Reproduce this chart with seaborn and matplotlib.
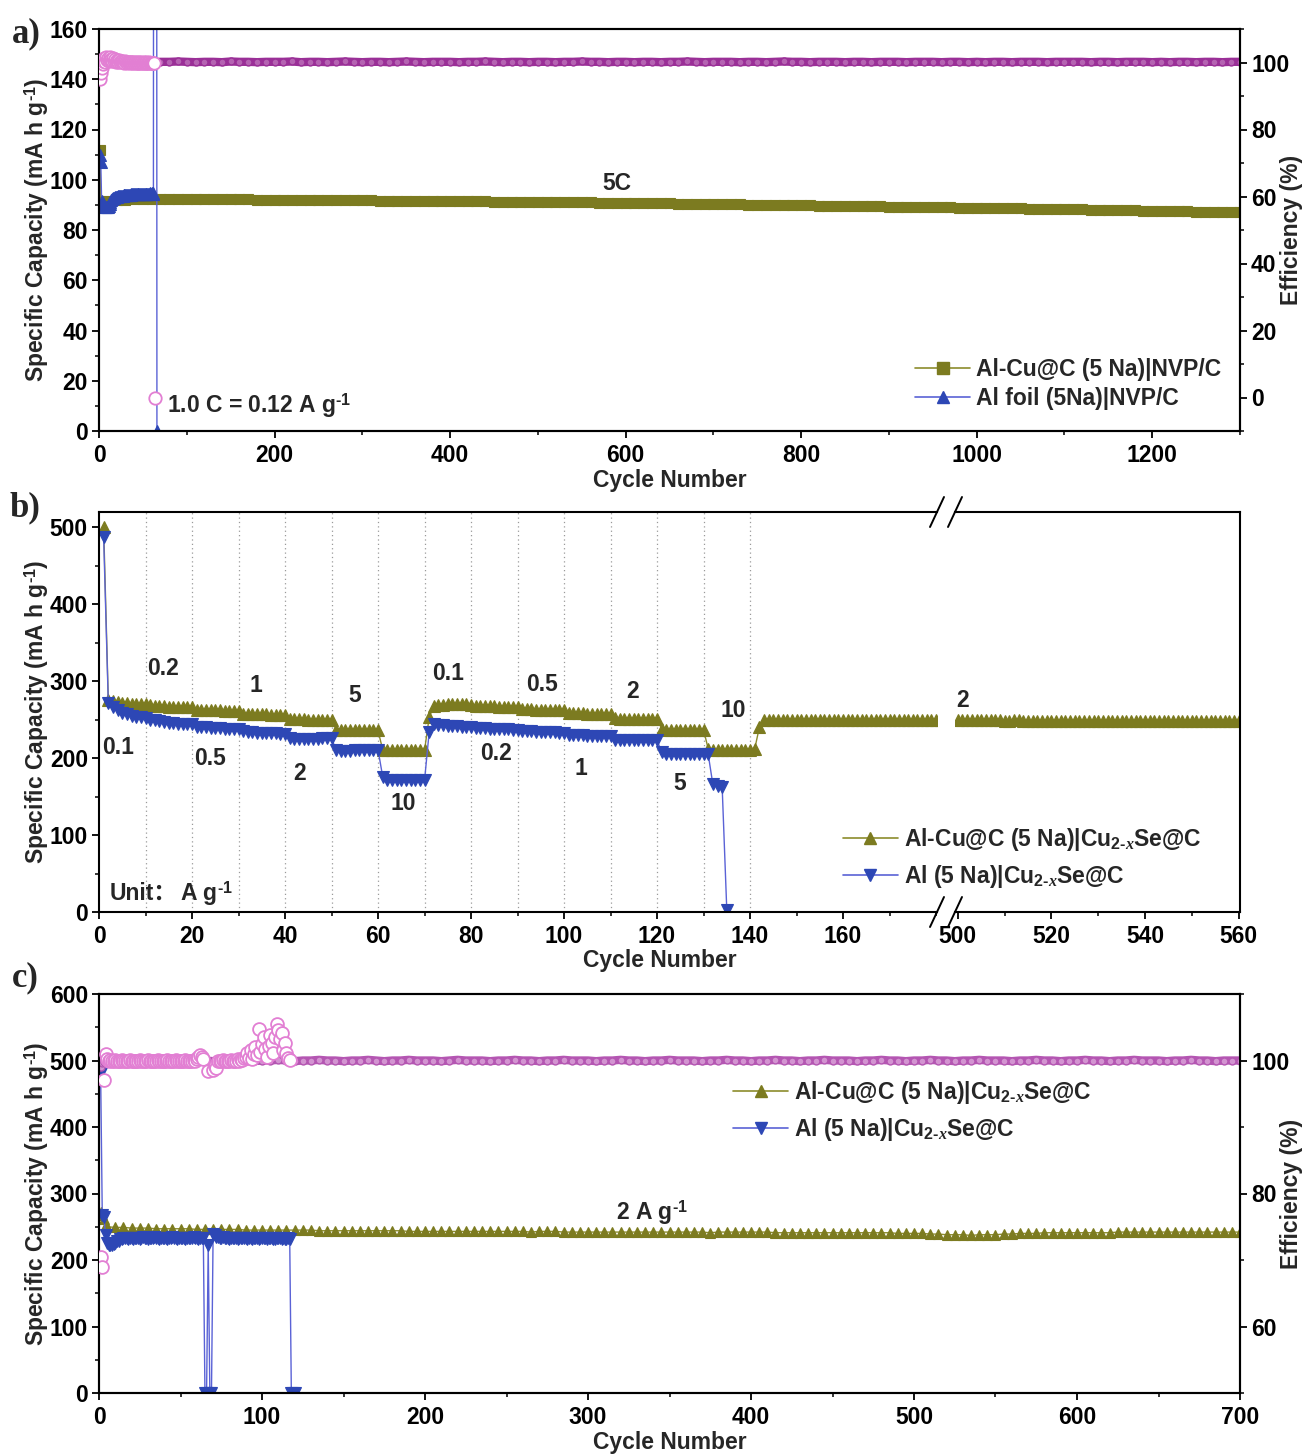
import numpy as np
import pandas as pd
import matplotlib
matplotlib.use("Agg")
import matplotlib.pyplot as plt
import seaborn as sns
from matplotlib.lines import Line2D
from matplotlib.ticker import MultipleLocator, FixedLocator

# ----------------------------------------------------------------- data ---
# (a) NVP/C full cells, 5C
cyc_a_alcu = [1, 2, 5] + list(range(10, 1301, 10))
cap_a_alcu = [112, 91, 91,
    91.5, 92.0, 92.0, 92.2, 92.3, 92.4, 92.5, 92.5, 92.4, 92.4,
    92.4, 92.3, 92.3, 92.3, 92.2, 92.2, 92.2, 92.1, 92.1, 92.1,
    92.0, 92.0, 92.0, 91.9, 91.9, 91.9, 91.9, 91.8, 91.8, 91.8,
    91.8, 91.7, 91.7, 91.7, 91.6, 91.6, 91.6, 91.5, 91.5, 91.5,
    91.5, 91.4, 91.4, 91.4, 91.3, 91.3, 91.3, 91.2, 91.2, 91.2,
    91.1, 91.1, 91.1, 91.0, 91.0, 91.0, 90.9, 90.9, 90.9, 90.8,
    90.8, 90.7, 90.7, 90.6, 90.6, 90.5, 90.5, 90.4, 90.4, 90.3,
    90.3, 90.2, 90.2, 90.1, 90.1, 90.0, 90.0, 89.9, 89.9, 89.8,
    89.8, 89.7, 89.7, 89.6, 89.6, 89.5, 89.5, 89.4, 89.4, 89.3,
    89.3, 89.2, 89.2, 89.1, 89.1, 89.0, 89.0, 88.9, 88.9, 88.8,
    88.8, 88.7, 88.7, 88.6, 88.6, 88.5, 88.5, 88.4, 88.4, 88.3,
    88.3, 88.2, 88.1, 88.1, 88.0, 87.9, 87.9, 87.8, 87.7, 87.7,
    87.6, 87.5, 87.5, 87.4, 87.3, 87.3, 87.2, 87.1, 87.1, 87.0]
eff_a_alcu = [96.0, 98.5, 99.6,
    100.2, 100.1, 100.2, 100.3, 100.2, 100.1, 100.2, 100.2, 100.3, 100.2,
    100.1, 100.2, 100.2, 100.1, 100.3, 100.2, 100.2, 100.1, 100.2, 100.2,
    100.2, 100.3, 100.1, 100.2, 100.2, 100.1, 100.2, 100.3, 100.2, 100.1,
    100.2, 100.2, 100.1, 100.2, 100.3, 100.2, 100.1, 100.2, 100.2, 100.2,
    100.1, 100.2, 100.2, 100.3, 100.2, 100.1, 100.2, 100.2, 100.1, 100.2,
    100.2, 100.1, 100.2, 100.2, 100.3, 100.2, 100.2, 100.1, 100.2, 100.2,
    100.1, 100.2, 100.2, 100.1, 100.2, 100.2, 100.3, 100.2, 100.1, 100.2,
    100.2, 100.2, 100.1, 100.2, 100.2, 100.1, 100.2, 100.3, 100.2, 100.2,
    100.1, 100.2, 100.2, 100.2, 100.1, 100.2, 100.2, 100.1, 100.2, 100.2,
    100.2, 100.1, 100.2, 100.2, 100.2, 100.1, 100.2, 100.2, 100.1, 100.2,
    100.1, 100.2, 100.2, 100.1, 100.2, 100.2, 100.2, 100.1, 100.2, 100.2,
    100.2, 100.2, 100.1, 100.2, 100.2, 100.1, 100.2, 100.2, 100.2, 100.1,
    100.2, 100.1, 100.2, 100.2, 100.1, 100.2, 100.2, 100.1, 100.2, 100.2]
cyc_a_al = list(range(1, 67))
cap_a_al = [110, 107, 91.5, 90.5, 90.0, 89.5, 89.3, 89.2, 89.2, 89.3,
    89.5, 90.2, 91.0, 91.8, 92.3, 92.6, 92.8, 93.0, 93.1, 93.2,
    93.3, 93.4, 93.5, 93.5, 93.6, 93.7, 93.7, 93.8, 93.8, 93.9,
    94.0, 94.0, 94.1, 94.0, 94.1, 94.2, 94.1, 94.2, 94.2, 94.3,
    94.2, 94.3, 94.3, 94.2, 94.3, 94.4, 94.3, 94.4, 94.4, 94.3,
    94.4, 94.5, 94.4, 94.5, 94.5, 94.4, 94.5, 94.6, 94.5, 94.6,
    94.5, 94.6, 900, 900, 900, 0]
cyc_a_al_eff = list(range(1, 65))
eff_a_al = [95.0, 97.0, 98.5, 99.5, 100.5, 101.3, 100.2, 101.6, 100.8, 101.2,
    100.4, 101.5, 100.6, 101.0, 100.3, 101.3, 100.5, 100.9, 100.2, 100.7,
    100.4, 100.1, 100.6, 100.2, 100.3, 100.5, 100.1, 100.2, 100.0, 100.3,
    100.1, 100.0, 100.2, 100.1, 100.0, 100.1, 100.2, 100.0, 100.1, 100.0,
    100.1, 100.0, 100.1, 100.0, 100.0, 100.1, 100.0, 100.1, 100.0, 100.0,
    100.1, 100.0, 100.0, 100.1, 100.0, 100.0, 100.1, 100.0, 100.0, 100.0,
    100.0, 100.0, 100.0, 0.0]

# (b) rate capability, Cu2-xSe@C
cyc_b_alcu = list(range(1, 182)) + list(range(500, 561))
cap_b_alcu = [500,
    276, 274, 273, 272, 272, 271, 271, 270, 270,
    269, 268, 268, 268, 267, 267, 267, 266, 266, 266,
    263, 263, 262, 262, 262, 262, 261, 261, 261, 261,
    258, 258, 257, 257, 257, 257, 256, 256, 256, 256,
    251, 251, 251, 251, 250, 250, 250, 250, 250, 250,
    237, 236, 236, 236, 236, 236, 236, 236, 236, 236,
    211, 210, 210, 210, 210, 210, 210, 210, 210, 210,
    253, 268, 269, 269, 270, 270, 270, 270, 270, 269,
    268, 268, 268, 268, 268, 267, 267, 267, 267, 267,
    264, 264, 264, 263, 263, 263, 263, 263, 262, 262,
    259, 259, 259, 259, 258, 258, 258, 258, 258, 258,
    252, 251, 251, 251, 251, 251, 251, 251, 251, 251,
    238, 237, 237, 237, 237, 237, 237, 237, 237, 237,
    212, 211, 211, 211, 211, 211, 211, 211, 211, 211,
    212, 240, 250, 250, 250, 250, 250, 250, 250, 250, 250,
    250, 250, 250, 250, 250, 250, 250, 250, 250, 250,
    250, 249, 249, 250, 250, 250, 250, 249, 249, 249,
    249, 249, 250, 250, 249, 249, 249, 249, 249, 249,
    249, 249, 249, 249, 249, 249, 249, 249, 249, 249,
    248, 248, 249, 249, 248, 248, 248, 248, 248, 248,
    248, 248, 248, 248, 248, 248, 248, 248, 248, 248,
    248, 248, 248, 248, 248, 248, 248, 248, 248, 248,
    248, 248, 248, 248, 248, 248, 248, 248, 248, 248,
    248, 248, 248, 248, 248, 248, 248, 248, 248, 248,
    248]
cyc_b_al = list(range(1, 136))
cap_b_al = [487,
    272, 266, 262, 259, 257, 255, 254, 253, 252,
    250, 249, 248, 247, 246, 246, 245, 245, 244, 244,
    241, 240, 240, 239, 239, 239, 238, 238, 238, 238,
    235, 234, 234, 233, 233, 233, 233, 233, 232, 232,
    226, 225, 225, 225, 225, 225, 225, 226, 226, 226,
    210, 209, 209, 209, 210, 210, 210, 211, 211, 211,
    176, 172, 171, 171, 171, 171, 171, 171, 171, 171,
    234, 244, 243, 243, 242, 242, 242, 241, 241, 241,
    239, 239, 239, 238, 238, 238, 238, 238, 237, 237,
    235, 235, 235, 234, 234, 234, 234, 234, 233, 233,
    230, 230, 230, 230, 229, 229, 229, 229, 229, 229,
    224, 224, 224, 224, 223, 223, 223, 223, 223, 223,
    208, 205, 205, 205, 205, 205, 205, 206, 206, 206,
    205, 166, 164, 163, 2]
rate_bounds_b = [10, 20, 30, 40, 50, 60, 70, 80, 90, 100, 110, 120, 130, 140]
rate_labels_upper = [("0.2", 13.8, 316), ("1", 33.8, 294), ("5", 55.0, 281),
                     ("0.1", 75.1, 310), ("0.5", 95.3, 296), ("2", 114.8, 287),
                     ("10", 136.3, 262)]
rate_labels_lower = [("0.1", 4.1, 214), ("0.5", 23.8, 199), ("2", 43.2, 180),
                     ("10", 65.4, 141), ("0.2", 85.3, 206.5), ("1", 103.7, 186),
                     ("5", 124.9, 167.5)]
ticks_b_left = [0, 20, 40, 60, 80, 100, 120, 140, 160]
ticks_b_right = [500, 520, 540, 560]

# (c) long cycling at 2 A g-1
cyc_c_alcu = [1, 2, 3, 4] + list(range(5, 701, 5))
cap_c_alcu = [272, 268, 262, 252,
    250, 249, 249, 248, 248, 248, 247, 247, 247, 247, 247, 246, 246, 246, 246, 246, 246, 245, 245, 245,
    245, 245, 245, 245, 245, 245, 244, 244, 244, 244, 244, 244, 244, 244, 244, 244, 244, 243, 243, 243,
    243, 243, 243, 243, 243, 243, 243, 243, 243, 243, 243, 243, 242, 243, 243, 243, 242, 242, 242, 242,
    242, 242, 242, 242, 242, 242, 242, 242, 242, 242, 242, 242, 242, 242, 241, 242, 242, 242, 242, 242,
    242, 242, 241, 241, 241, 241, 241, 241, 241, 241, 241, 241, 241, 241, 241, 241, 241, 240, 240, 240,
    240, 239, 239, 238, 238, 238, 237, 238, 238, 238, 239, 239, 240, 240, 240, 241, 241, 241, 241, 241,
    241, 241, 241, 241, 242, 242, 242, 242, 242, 242, 242, 242, 242, 242, 242, 242, 242, 242, 242, 242]
eff_c_alcu = [99.0, 99.6, 99.8, 99.9,
    100.0, 100.1, 99.9, 100.0, 100.0, 100.1, 100.0, 99.9, 100.0, 100.0, 100.1, 100.0, 100.0, 99.9, 100.0, 100.1, 100.0, 100.0, 99.9, 100.0,
    100.0, 100.1, 100.0, 99.9, 100.0, 100.0, 100.1, 100.0, 100.0, 99.9, 100.0, 100.0, 100.1, 100.0, 99.9, 100.0, 100.0, 100.1, 100.0, 100.0,
    100.0, 99.9, 100.0, 100.1, 100.0, 100.0, 100.0, 99.9, 100.0, 100.0, 100.1, 100.0, 100.0, 99.9, 100.0, 100.0, 100.1, 100.0, 100.0, 100.0,
    99.9, 100.0, 100.0, 100.1, 100.0, 100.0, 99.9, 100.0, 100.0, 100.1, 100.0, 100.0, 100.0, 99.9, 100.0, 100.0, 100.1, 100.0, 100.0, 99.9,
    100.0, 100.0, 100.1, 100.0, 100.0, 99.9, 100.0, 100.0, 100.1, 100.0, 100.0, 100.0, 99.9, 100.0, 100.0, 100.1, 100.0, 100.0, 99.9, 100.0,
    100.0, 100.1, 100.0, 100.0, 99.9, 100.0, 100.0, 100.1, 100.0, 100.0, 100.0, 99.9, 100.0, 100.0, 100.1, 100.0, 100.0, 99.9, 100.0, 100.0,
    100.1, 100.0, 100.0, 99.9, 100.0, 100.0, 100.1, 100.0, 100.0, 100.0, 99.9, 100.0, 100.0, 100.1, 100.0, 100.0, 99.9, 100.0, 100.0, 100.0]
cyc_c_al = list(range(1, 121))
cap_c_al = [481, 268, 265, 238, 226, 223, 222, 222, 224, 226,
    228, 229, 231, 232, 233,
    233, 233, 232, 233, 233, 232, 233, 233, 233, 232,
    233, 234, 233, 233, 232, 233, 233, 233, 234, 233,
    233, 232, 233, 233, 233, 233, 232, 233, 233, 234,
    233, 233, 232, 233, 233, 233, 233, 232, 233, 233,
    233, 233, 234, 233, 233, 232, 233, 233, 233,
    0, 0, 222, 0, 0, 239, 237,
    234, 234, 233, 233, 234, 233, 233, 233, 232, 233,
    233, 233, 233, 232, 233, 233, 233, 233, 233, 232,
    233, 233, 232, 233, 233, 233, 231, 233, 233, 233,
    233, 232, 233, 233, 233, 231, 232, 233, 233, 233,
    232, 233, 231, 232, 233,
    232, 0, 0, 0]
nan = np.nan
eff_c_al = [70.5, 69.0, 97.0, 101.0, 100.3,
    100.0, 100.1, 99.9, 100.0, 100.1, 100.0, 99.9, 100.0, 100.1, 100.0,
    100.0, 99.9, 100.0, 100.1, 100.0, 100.0, 99.9, 100.0, 100.0, 100.1,
    100.0, 100.0, 99.9, 100.0, 100.1, 100.0, 100.0, 99.9, 100.0, 100.0,
    100.1, 100.0, 100.0, 99.9, 100.0, 100.0, 100.1, 100.0, 99.9, 100.0,
    100.0, 100.1, 100.0, 100.0, 99.9, 100.0, 100.0, 100.1, 100.0, 100.0,
    99.9, 100.0, 100.1, 100.0, 100.2,
    100.6, 100.8, 100.5, 100.2,
    nan, nan, 98.4, nan, nan, 98.6, 99.2, 98.9,
    100.0, 99.9, 100.0, 100.1, 100.0, 100.0, 99.9, 100.0, 100.1, 100.0,
    100.0, 99.9, 100.2, 100.0, 100.3, 100.1, 100.4,
    100.6, 101.2, 100.4, 101.6, 100.3, 101.0, 102.1, 100.8, 104.8, 101.3,
    102.5, 103.5, 101.8, 100.6, 102.2, 103.9, 102.7, 101.2, 103.5, 105.5,
    104.6, 103.2, 104.2, 101.6, 102.6, 101.1, 100.4, 100.1,
    nan, nan, nan]

lab_a = ["Al-Cu@C (5 Na)|NVP/C", "Al foil (5Na)|NVP/C"]
lab_bc = [r"Al-Cu@C (5 Na)|Cu$_{2\text{-}x}$Se@C", r"Al (5 Na)|Cu$_{2\text{-}x}$Se@C"]

# ---------------------------------------------------------------- style ---
sns.set_theme(style="ticks")
plt.rcParams["font.family"] = ["Liberation Sans", "DejaVu Sans"]
plt.rcParams.update({
    "font.weight": "bold", "axes.labelweight": "bold", "font.size": 16.5,
    "axes.labelsize": 16.5, "xtick.labelsize": 16.5, "ytick.labelsize": 16.5,
    "mathtext.fontset": "custom", "mathtext.rm": "Liberation Sans:bold",
    "mathtext.it": "Liberation Serif:italic", "mathtext.bf": "Liberation Sans:bold",
    "mathtext.sf": "Liberation Sans:bold",
    "axes.linewidth": 1.5, "axes.edgecolor": "black",
    "xtick.direction": "out", "ytick.direction": "out",
    "xtick.major.size": 5, "ytick.major.size": 5, "xtick.minor.size": 3, "ytick.minor.size": 3,
    "xtick.major.width": 1.3, "ytick.major.width": 1.3, "xtick.minor.width": 1.1, "ytick.minor.width": 1.1,
    "xtick.color": "black", "ytick.color": "black",
    "xtick.major.pad": 4, "ytick.major.pad": 3,
})

OLIVE = "#7c7b20"
OLIVE_LN = "#8c8c2c"
BLUE = "#2d47b5"
BLUE_LN = "#5a62d6"
PURPLE = "#9a2f97"
PINK = "#e27fd3"
SUP = r"$^{\text{-}1}$"

W, H = 1306, 1454
fig = plt.figure(figsize=(W / 100, H / 100), dpi=100)


def rect(l, t, r, b):
    return [l / W, 1 - b / H, (r - l) / W, (b - t) / H]


def capline(ax, x, y, marker, ms, color, lcolor):
    sns.lineplot(x=x, y=y, ax=ax, estimator=None, sort=False, color=lcolor, lw=1.0,
                 marker=marker, markersize=ms, markerfacecolor=color,
                 markeredgecolor=color, markeredgewidth=0.8, legend=False)


def effband(ax, x, y, lcolor, face, edge):
    sns.lineplot(x=x, y=y, ax=ax, estimator=None, sort=False, color=lcolor, lw=6,
                 marker="o", markersize=5, markerfacecolor=face,
                 markeredgecolor=edge, markeredgewidth=1.0, legend=False)


YLAB = "Specific Capacity (mA h g" + SUP + ")"

# ------------------------------------------------------------- panel a ---
axa = fig.add_axes(rect(99, 29, 1240, 431))
axa2 = axa.twinx()
capline(axa, cyc_a_alcu, cap_a_alcu, "s", 7, OLIVE, OLIVE_LN)
capline(axa, cyc_a_al, cap_a_al, "^", 8, BLUE, BLUE_LN)
effband(axa2, cyc_a_alcu, eff_a_alcu, PURPLE, "#b563b2", PURPLE)
sns.scatterplot(x=cyc_a_al_eff, y=eff_a_al, ax=axa2, s=80, color="white",
                edgecolor=PINK, linewidth=1.3, zorder=5, legend=False)
axa.set_xlim(0, 1300)
axa.set_ylim(0, 160)
axa2.set_ylim(-10, 110)
axa.xaxis.set_major_locator(MultipleLocator(200))
axa.xaxis.set_minor_locator(MultipleLocator(100))
axa.yaxis.set_major_locator(MultipleLocator(20))
axa.yaxis.set_minor_locator(MultipleLocator(10))
axa2.yaxis.set_major_locator(MultipleLocator(20))
axa2.yaxis.set_minor_locator(MultipleLocator(10))
axa.set_xlabel("Cycle Number", labelpad=2)
axa.set_ylabel(YLAB, labelpad=-1)
axa2.set_ylabel("Efficiency (%)", labelpad=-7)
axa.text(590, 98.7, "5C", ha="center", va="center")
axa.text(78, 10, "1.0 C = 0.12 A g" + SUP, ha="left", va="center")

# ------------------------------------------------------------- panel b ---
axb = fig.add_axes(rect(99, 512, 937, 912))
axb2 = fig.add_axes(rect(955, 512, 1240, 912))
for xb in rate_bounds_b:
    axb.axvline(xb, color="#9a9a9a", lw=0.9, ls=(0, (1, 2.5)), zorder=0)
nb = 181
capline(axb, cyc_b_alcu[:nb], cap_b_alcu[:nb], "^", 8, OLIVE, OLIVE_LN)
capline(axb, cyc_b_al, cap_b_al, "v", 8, BLUE, BLUE_LN)
capline(axb2, cyc_b_alcu[nb:], cap_b_alcu[nb:], "^", 8, OLIVE, OLIVE_LN)
axb.set_xlim(0, 180.2)
axb2.set_xlim(499.4, 560.3)
for ax in (axb, axb2):
    ax.set_ylim(0, 520)
axb.spines["right"].set_visible(False)
axb2.spines["left"].set_visible(False)
axb2.tick_params(axis="y", which="both", left=False, labelleft=False)
axb2.set_ylabel("")
axb.xaxis.set_major_locator(FixedLocator(ticks_b_left))
axb.xaxis.set_minor_locator(MultipleLocator(10))
axb2.xaxis.set_major_locator(FixedLocator(ticks_b_right))
axb2.xaxis.set_minor_locator(MultipleLocator(10))
axb.yaxis.set_major_locator(MultipleLocator(100))
axb.yaxis.set_minor_locator(MultipleLocator(50))
axb.set_ylabel(YLAB, labelpad=-1)
axb.set_xlabel("")
axb2.set_xlabel("")
fig.text(660 / W, 1 - 961 / H, "Cycle Number", ha="center", va="center",
         fontsize=16.5, fontweight="bold")
for t, x, y in rate_labels_upper + rate_labels_lower:
    axb.text(x, y, t, ha="center", va="center")
axb2.text(501, 275, "2", ha="center", va="center")
t_unit = axb.text(2.3, 24, "Unit\uff1a", ha="left", va="center",
                  family=["Liberation Sans", "Noto Sans CJK SC"])
axb.annotate("A g" + SUP, xy=(1, 0.5), xycoords=t_unit, xytext=(2, 0),
             textcoords="offset points", ha="left", va="center")


def slash(px, py):
    fig.add_artist(Line2D([(px - 7) / W, (px + 7) / W], [1 - (py + 15) / H, 1 - (py - 15) / H],
                          transform=fig.transFigure, color="black", lw=1.4))


for py in (512, 912):
    slash(937, py)
    slash(955, py)

# ------------------------------------------------------------- panel c ---
axc = fig.add_axes(rect(99, 994, 1240, 1393))
axc2 = axc.twinx()
capline(axc, cyc_c_alcu, cap_c_alcu, "^", 7, OLIVE, OLIVE_LN)
capline(axc, cyc_c_al, cap_c_al, "v", 8, BLUE, BLUE_LN)
effband(axc2, cyc_c_alcu, eff_c_alcu, "#b456b2", "#d394d1", "#b456b2")
sns.scatterplot(x=cyc_c_al, y=eff_c_al, ax=axc2, s=85, color="white",
                edgecolor=PINK, linewidth=1.3, zorder=5, legend=False)
axc.set_xlim(0, 700)
axc.set_ylim(0, 600)
axc2.set_ylim(50, 110)
axc.xaxis.set_major_locator(MultipleLocator(100))
axc.xaxis.set_minor_locator(MultipleLocator(50))
axc.yaxis.set_major_locator(MultipleLocator(100))
axc.yaxis.set_minor_locator(MultipleLocator(50))
axc2.yaxis.set_major_locator(MultipleLocator(20))
axc2.yaxis.set_minor_locator(MultipleLocator(10))
axc.set_xlabel("Cycle Number", labelpad=2)
axc.set_ylabel(YLAB, labelpad=-1)
axc2.set_ylabel("Efficiency (%)", labelpad=-7)
axc.text(339, 249, "2 A g" + SUP, ha="center", va="bottom")

for ax in (axa, axa2, axb, axb2, axc, axc2):
    ax.tick_params(which="both", top=False)
for ax in (axa, axc):
    ax.tick_params(which="both", right=False)

# -------------------------------------------------------------- legends ---
h_sq = Line2D([], [], color=OLIVE_LN, lw=1.2, marker="s", ms=8, mfc=OLIVE, mec=OLIVE)
h_up = Line2D([], [], color=OLIVE_LN, lw=1.2, marker="^", ms=9, mfc=OLIVE, mec=OLIVE)
h_tri = Line2D([], [], color=BLUE_LN, lw=1.2, marker="^", ms=9, mfc=BLUE, mec=BLUE)
h_dn = Line2D([], [], color=BLUE_LN, lw=1.2, marker="v", ms=9, mfc=BLUE, mec=BLUE)
legkw = dict(loc="upper left", frameon=False, handlelength=2.4, handletextpad=0.25,
             borderpad=0, borderaxespad=0, fontsize=16.5, numpoints=1)
fig.legend([h_sq, h_tri], lab_a, bbox_to_anchor=(915 / W, 1 - 358 / H),
           labelspacing=0.25, **legkw)
fig.legend([h_up, h_dn], lab_bc, bbox_to_anchor=(843 / W, 1 - 826 / H),
           labelspacing=0.45, **legkw)
fig.legend([h_up, h_dn], lab_bc, bbox_to_anchor=(733 / W, 1 - 1079 / H),
           labelspacing=0.45, **legkw)

# --------------------------------------------------------- panel labels ---
for t, px, py in (("a)", 12, 42), ("b)", 10, 516), ("c)", 12, 986)):
    fig.text(px / W, 1 - py / H, t, family="Liberation Serif", fontweight="bold",
             fontsize=25, ha="left", va="baseline")

fig.savefig("out.png", dpi=100)
